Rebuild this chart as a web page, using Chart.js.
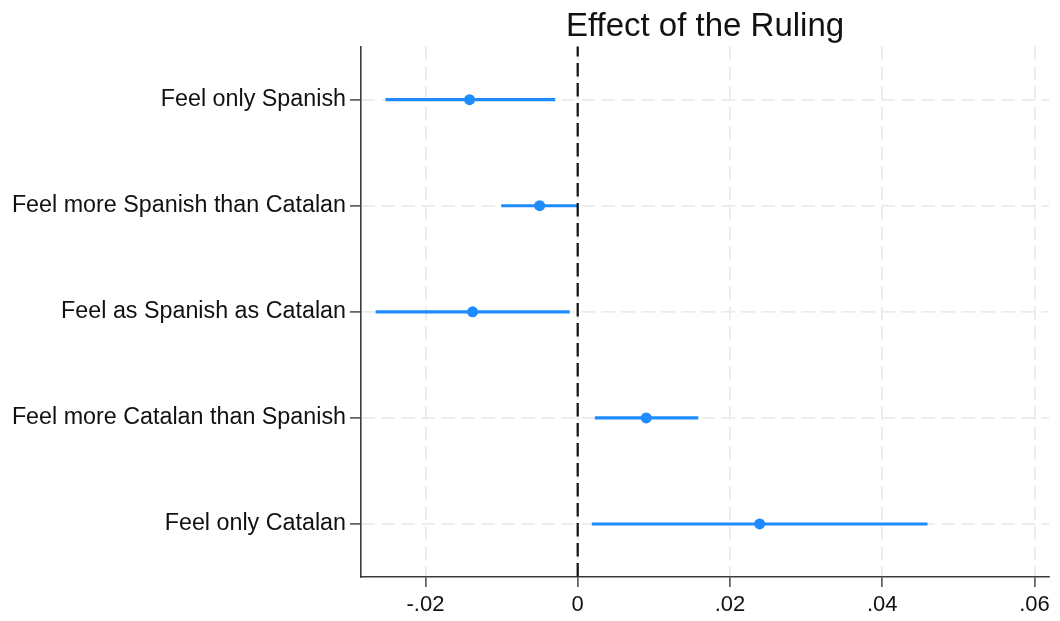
<!DOCTYPE html>
<html>
<head>
<meta charset="utf-8">
<style>
  html, body { margin: 0; padding: 0; background: #ffffff; }
  #wrap { width: 1060px; height: 621px; }
</style>
<script src="https://cdn.jsdelivr.net/npm/chart.js@4.4.1/dist/chart.umd.min.js"></script>
</head>
<body>
<div id="wrap"><canvas id="c" width="1060" height="621"></canvas></div>
<script>
// Identity groups, top to bottom
const categories = [
  'Feel only Spanish',
  'Feel more Spanish than Catalan',
  'Feel as Spanish as Catalan',
  'Feel more Catalan than Spanish',
  'Feel only Catalan'
];
// Point estimates and confidence bounds
const estimates = [-0.0142, -0.0050, -0.0138, 0.0090, 0.0239];
const lowerCI   = [-0.0252, -0.0100, -0.0265, 0.0023, 0.0019];
const upperCI   = [-0.0030,  0.0000, -0.0011, 0.0158, 0.0459];
// X axis ticks and labels
const xTicks = [-0.02, 0, 0.02, 0.04, 0.06];
const xTickLabels = ['-.02', '0', '.02', '.04', '.06'];
const xRange = [-0.02846, 0.0619];
const zeroRef = 0;

const BLUE = '#1E8CFF';
const GRID = '#ebebeb';
const AXIS = '#3a3a3a';
const FONT = '"Liberation Sans", Arial, sans-serif';

// Dashed reference line at zero
const zeroLine = {
  id: 'zeroLine',
  afterDatasetsDraw(chart) {
    const {ctx, chartArea} = chart;
    const x = chart.scales.x.getPixelForValue(zeroRef);
    ctx.save();
    ctx.strokeStyle = '#111111';
    ctx.lineWidth = 2.2;
    ctx.setLineDash([13.5, 6.5]);
    ctx.lineDashOffset = 3.5;
    ctx.beginPath();
    ctx.moveTo(x, chartArea.top);
    ctx.lineTo(x, chartArea.bottom);
    ctx.stroke();
    ctx.restore();
  }
};

new Chart(document.getElementById('c'), {
  type: 'bar',
  data: {
    labels: categories,
    datasets: [
      {
        type: 'scatter',
        data: estimates.map((v, i) => ({x: v, y: categories[i]})),
        backgroundColor: BLUE,
        borderColor: BLUE,
        pointRadius: 5.5,
        pointHoverRadius: 5.5,
        borderWidth: 0,
        order: 1
      },
      {
        type: 'bar',
        data: lowerCI.map((l, i) => [l, upperCI[i]]),
        backgroundColor: BLUE,
        borderWidth: 0,
        barThickness: 2.5,
        borderSkipped: false,
        order: 2
      }
    ]
  },
  options: {
    indexAxis: 'y',
    responsive: false,
    animation: false,
    events: [],
    layout: { padding: { left: 0, right: 11, top: 0, bottom: 0 } },
    plugins: {
      legend: { display: false },
      tooltip: { enabled: false },
      title: {
        display: true,
        text: 'Effect of the Ruling',
        fullSize: false,
        color: '#111111',
        font: { family: FONT, size: 33, weight: 'normal', lineHeight: 1.2 },
        padding: { top: 7, bottom: 0 }
      }
    },
    scales: {
      x: {
        type: 'linear',
        min: xRange[0],
        max: xRange[1],
        afterBuildTicks(scale) {
          scale.ticks = xTicks.map(v => ({value: v}));
        },
        afterFit(scale) { scale.height = 44; },
        ticks: {
          color: '#111111',
          font: { family: FONT, size: 22 },
          padding: 5,
          maxRotation: 0,
          autoSkip: false,
          callback: (v, i) => xTickLabels[i]
        },
        grid: {
          color: GRID,
          lineWidth: 1.8,
          drawTicks: true,
          tickLength: 10,
          tickColor: AXIS,
          tickWidth: 1.4,
          tickBorderDash: []
        },
        border: { display: true, color: AXIS, width: 1.6, dash: [13.5, 6.5] }
      },
      y: {
        type: 'category',
        offset: true,
        afterFit(scale) { scale.width = 361; },
        ticks: {
          color: '#111111',
          font: { family: FONT, size: 23.3 },
          padding: 4,
          autoSkip: false
        },
        grid: {
          offset: false,
          color: GRID,
          lineWidth: 1.8,
          drawTicks: true,
          tickLength: 11,
          tickColor: AXIS,
          tickWidth: 1.4,
          tickBorderDash: []
        },
        border: { display: true, color: AXIS, width: 1.6, dash: [13.5, 6.5] }
      }
    }
  },
  plugins: [zeroLine]
});
</script>
</body>
</html>
